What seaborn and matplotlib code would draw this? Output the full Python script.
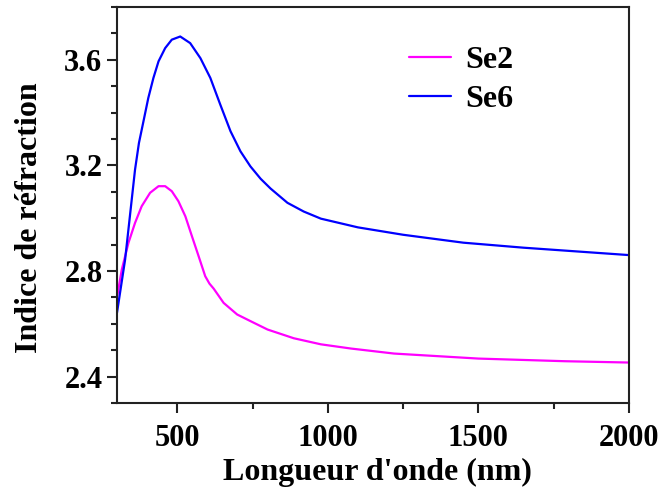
import pandas as pd
import matplotlib.pyplot as plt
import seaborn as sns
from matplotlib.ticker import MultipleLocator

# values
se2_wl = [300, 316, 338, 360, 382, 410, 438, 460, 482, 504, 527, 549, 571, 593,
          607, 621, 654, 699, 743, 800, 887, 977, 1077, 1220, 1500, 1787, 2000]
se2_n = [2.70, 2.805, 2.906, 2.982, 3.045, 3.096, 3.121, 3.121, 3.102, 3.064, 3.007,
         2.931, 2.856, 2.78, 2.752, 2.733, 2.679, 2.635, 2.61, 2.578, 2.545, 2.522,
         2.506, 2.487, 2.468, 2.458, 2.453]

se6_wl = [300, 327, 360, 373, 388, 404, 421, 438, 460, 482, 510, 543, 577, 610,
          643, 677, 710, 743, 777, 810, 866, 920, 977, 1100, 1250, 1450, 1650, 1800, 2000]
se6_n = [2.641, 2.843, 3.184, 3.285, 3.367, 3.455, 3.531, 3.594, 3.644, 3.676, 3.688,
         3.663, 3.606, 3.531, 3.43, 3.329, 3.253, 3.196, 3.149, 3.112, 3.058, 3.025,
         2.998, 2.965, 2.937, 2.907, 2.888, 2.876, 2.86]

se2 = pd.DataFrame({'wl': se2_wl, 'n': se2_n})
se6 = pd.DataFrame({'wl': se6_wl, 'n': se6_n})

sns.set_style('ticks')
plt.rcParams['font.family'] = ['Liberation Serif', 'DejaVu Serif']
plt.rcParams['font.weight'] = 'bold'
plt.rcParams['text.color'] = 'black'
plt.rcParams['axes.labelcolor'] = 'black'

fig = plt.figure(figsize=(6.59, 4.95), dpi=100)
ax = fig.add_axes([0.1775, 0.186, 0.777, 0.80])

sns.lineplot(data=se2, x='wl', y='n', color='#ff00ff', linewidth=1.6, label='Se2', ax=ax)
sns.lineplot(data=se6, x='wl', y='n', color='#0000ff', linewidth=1.6, label='Se6', ax=ax)

ax.set_xlim(300, 2000)
ax.set_ylim(2.3, 3.8)
ax.xaxis.set_major_locator(MultipleLocator(500))
ax.xaxis.set_minor_locator(MultipleLocator(250))
ax.yaxis.set_major_locator(MultipleLocator(0.4))
ax.yaxis.set_minor_locator(MultipleLocator(0.1))
ax.tick_params(which='major', direction='out', length=7, width=1.5, labelsize=22,
               colors='#222222', labelcolor='black')
ax.tick_params(axis='x', which='major', pad=8)
ax.tick_params(which='minor', direction='out', length=4, width=1.5, colors='#222222')

for s in ax.spines.values():
    s.set_linewidth(1.5)
    s.set_color('#222222')

ax.set_xlabel("Longueur d'onde (nm)", fontsize=23, fontweight='bold')
ax.set_ylabel('Indice de réfraction', fontsize=23, fontweight='bold')
ax.yaxis.set_label_coords(-0.142, 0.467)
ax.xaxis.set_label_coords(0.508, -0.138)

ax.legend(loc='upper left', bbox_to_anchor=(0.515, 0.975), frameon=False,
          handlelength=1.3, handletextpad=0.45, labelspacing=0.3,
          prop={'weight': 'bold', 'size': 23})

fig.savefig('out.png', dpi=100)
